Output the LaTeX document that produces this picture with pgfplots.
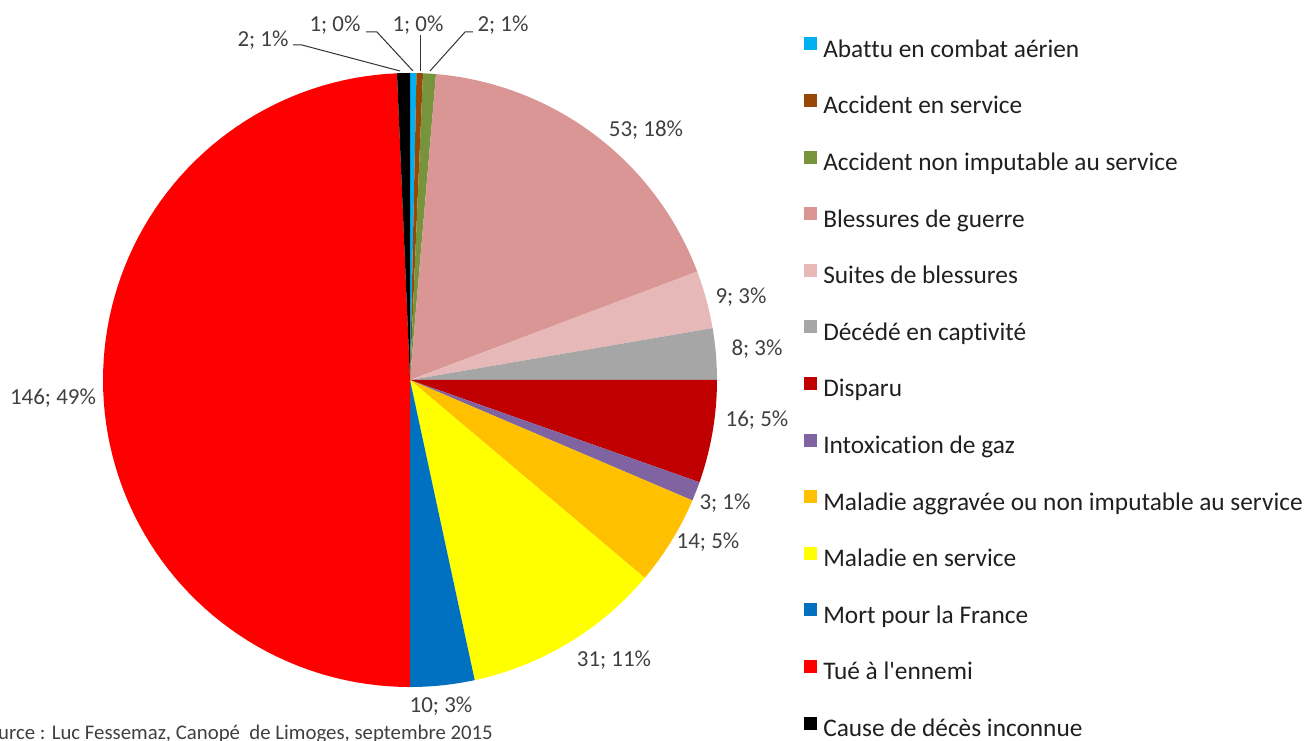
\documentclass[border=0pt]{standalone}
\usepackage{fontspec}
\setmainfont{Carlito}[Ligatures={NoCommon}]
\usepackage{pgfplots}
\pgfplotsset{compat=1.18}

\definecolor{txt}{HTML}{404040}
\definecolor{legtxt}{HTML}{202020}
\definecolor{cAbattu}{HTML}{00B0F0}
\definecolor{cAccServ}{HTML}{974706}
\definecolor{cAccNon}{HTML}{77933C}
\definecolor{cBless}{HTML}{D99694}
\definecolor{cSuites}{HTML}{E6B9B8}
\definecolor{cCapt}{HTML}{A6A6A6}
\definecolor{cDisp}{HTML}{C00000}
\definecolor{cIntox}{HTML}{8064A2}
\definecolor{cMalAggr}{HTML}{FFC000}
\definecolor{cMalServ}{HTML}{FFFF00}
\definecolor{cMort}{HTML}{0070C0}
\definecolor{cTue}{HTML}{FF0000}
\definecolor{cInc}{HTML}{000000}

\tikzset{lbl/.style={font=\fontsize{17.2}{20}\selectfont, text=txt, inner sep=0pt}}

% pie: centre (410,360), radius 307 in pixel-like axis units; starts at 12 o'clock, clockwise
\def\total{296}
\def\cum{0}
\newcommand\pieslice[3]{%
  \pgfmathsetmacro\pa{90-\cum/\total*360}%
  \pgfmathsetmacro\pb{90-(\cum+#1)/\total*360}%
  \edef\doslice{\noexpand\addplot[fill=#2, draw=none, domain=\pb:\pa, samples=90]
    ({410+307*cos(x)}, {360+307*sin(x)}) -- (axis cs:410,360) -- cycle;}%
  \doslice
  \addlegendentry{#3}%
  \pgfmathsetmacro\newcum{\cum+#1}%
  \xdef\cum{\newcum}%
}

\begin{document}
\begin{tikzpicture}
\begin{axis}[
    width=981pt, height=555pt, scale only axis,
    xmin=0, xmax=1308, ymin=0, ymax=740,
    hide axis, clip=false,
    legend cell align=left,
    legend image code/.code={\fill[#1] (0pt,0.2pt) rectangle (9.75pt,9.95pt);},
    legend style={draw=none, fill=none, inner sep=0pt,
        at={(axis cs:804,702.9)}, anchor=north west,
        font=\fontsize{19}{23}\selectfont, text=legtxt,
        column sep=4.5pt, row sep=23.5pt,
        nodes={inner sep=0pt, text height=14pt, text depth=4pt}},
]
\pieslice{1}{cAbattu}{Abattu en combat aérien}
\pieslice{1}{cAccServ}{Accident en service}
\pieslice{2}{cAccNon}{Accident non imputable au service}
\pieslice{53}{cBless}{Blessures de guerre}
\pieslice{9}{cSuites}{Suites de blessures}
\pieslice{8}{cCapt}{Décédé en captivité}
\pieslice{16}{cDisp}{Disparu}
\pieslice{3}{cIntox}{Intoxication de gaz}
\pieslice{14}{cMalAggr}{Maladie aggravée ou non imputable au service}
\pieslice{31}{cMalServ}{Maladie en service}
\pieslice{10}{cMort}{Mort pour la France}
\pieslice{146}{cTue}{Tué à l\textquotesingle ennemi}
\pieslice{2}{cInc}{Cause de décès inconnue}

% leader lines for the small slices
\addplot[forget plot, black!80, line width=0.75pt] coordinates {(293,695) (302,695) (400,669)};
\addplot[forget plot, black!80, line width=0.75pt] coordinates {(366,708) (377,708) (413,669)};
\addplot[forget plot, black!80, line width=0.75pt] coordinates {(420,705) (420,669)};
\addplot[forget plot, black!80, line width=0.75pt] coordinates {(473,708) (465,708) (430,669)};

\node[lbl] at (axis cs:263,700) {2; 1\%};
\node[lbl] at (axis cs:335,715) {1; 0\%};
\node[lbl] at (axis cs:418,715) {1; 0\%};
\node[lbl] at (axis cs:503,715) {2; 1\%};
\node[lbl] at (axis cs:646,610) {53; 18\%};
\node[lbl] at (axis cs:741,443) {9; 3\%};
\node[lbl] at (axis cs:757,391) {8; 3\%};
\node[lbl] at (axis cs:757,320) {16; 5\%};
\node[lbl] at (axis cs:725,237) {3; 1\%};
\node[lbl] at (axis cs:708,198) {14; 5\%};
\node[lbl] at (axis cs:614,80) {31; 11\%};
\node[lbl] at (axis cs:441,34) {10; 3\%};
\node[lbl] at (axis cs:53,342) {146; 49\%};

\node[lbl, font=\fontsize{15.6}{18}\selectfont, anchor=base east] at (axis cs:493,1)
  {Source : Luc Fessemaz, Canopé\ \ de Limoges, septembre 2015};

\coordinate (ll) at (axis cs:0,0);
\coordinate (ur) at (axis cs:1308,740);
\end{axis}
\pgfresetboundingbox
\useasboundingbox (ll) rectangle (ur);
\end{tikzpicture}
\end{document}
